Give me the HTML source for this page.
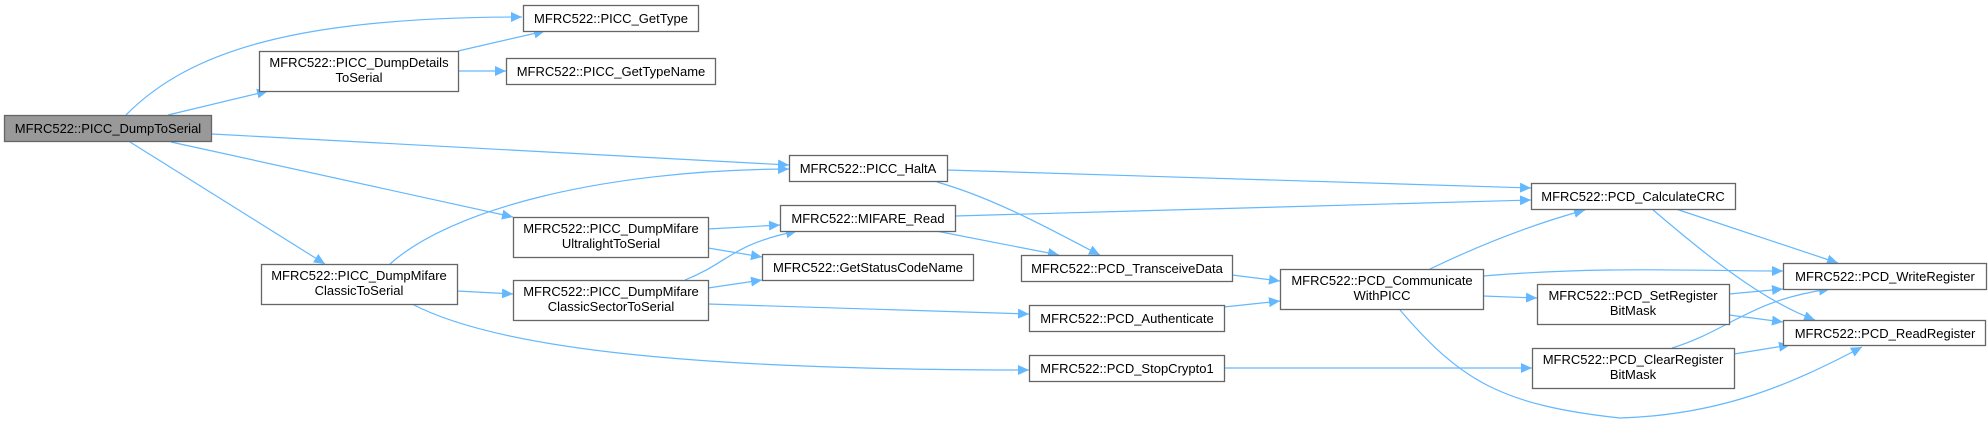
<!DOCTYPE html>
<html><head><meta charset="utf-8"><style>
html,body{margin:0;padding:0;background:#fff;}
svg{display:block;}
text{font-family:"Liberation Sans",Arial,sans-serif;font-size:13px;fill:#000;text-anchor:middle;}
.n{fill:#fff;stroke:#666;stroke-width:1.3;}
.e{fill:none;stroke:#63b8ff;stroke-width:1.2;marker-end:url(#a);}
</style></head><body>
<svg width="1988" height="424" viewBox="0 0 1988 424" xmlns="http://www.w3.org/2000/svg">
<defs><marker id="a" markerUnits="userSpaceOnUse" markerWidth="12" markerHeight="10" refX="11" refY="5" orient="auto"><path d="M0,0 L11,5 L0,10 z" fill="#63b8ff"/></marker></defs>
<g>
<path class="e" d="M126,115 C190,50 300,17 522,17"/>
<path class="e" d="M168,115 L268,91"/>
<path class="e" d="M212,134 L789,165"/>
<path class="e" d="M171,142 L513,217"/>
<path class="e" d="M130,142 L325,264"/>
<path class="e" d="M458,51 L545,31"/>
<path class="e" d="M459,71 L506,71"/>
<path class="e" d="M390,264 C450,210 600,170 789,169"/>
<path class="e" d="M457,291 L513,294"/>
<path class="e" d="M412,304 C500,350 700,370 1029,370"/>
<path class="e" d="M708,229 L780,225"/>
<path class="e" d="M708,248 L762,257"/>
<path class="e" d="M685,280 C730,262 730,245 797,231"/>
<path class="e" d="M708,288 L762,280"/>
<path class="e" d="M708,304 L1029,314"/>
<path class="e" d="M947,170 L1531,188"/>
<path class="e" d="M937,182 C1000,200 1060,235 1100,255"/>
<path class="e" d="M955,216 L1531,200"/>
<path class="e" d="M936,231 L1059,255"/>
<path class="e" d="M1232,275 L1280,281"/>
<path class="e" d="M1224,307 L1280,301"/>
<path class="e" d="M1224,368 L1532,368"/>
<path class="e" d="M1430,269 C1480,245 1530,225 1585,210"/>
<path class="e" d="M1483,276 C1600,266 1700,271 1783,271"/>
<path class="e" d="M1483,296 L1537,298"/>
<path class="e" d="M1400,310 C1460,380 1500,405 1620,418 C1720,415 1790,385 1862,347"/>
<path class="e" d="M1676,209 L1838,263"/>
<path class="e" d="M1652,209 C1700,250 1760,300 1815,320"/>
<path class="e" d="M1729,294 L1783,289"/>
<path class="e" d="M1729,315 L1783,322"/>
<path class="e" d="M1672,348 C1730,330 1750,300 1830,289"/>
<path class="e" d="M1734,354 L1790,345"/>
</g>
<g>
<rect x="4.5" y="115.5" width="207" height="26" fill="#999" stroke="#666" stroke-width="1.3"/>
<text x="108" y="133">MFRC522::PICC_DumpToSerial</text>
<rect class="n" x="523.5" y="5.5" width="175" height="26"/><text x="611" y="23">MFRC522::PICC_GetType</text>
<rect class="n" x="259.5" y="51.5" width="199" height="40"/><text x="359" y="67">MFRC522::PICC_DumpDetails</text><text x="359" y="82">ToSerial</text>
<rect class="n" x="506.5" y="58.5" width="209" height="26"/><text x="611" y="76">MFRC522::PICC_GetTypeName</text>
<rect class="n" x="513.5" y="217.5" width="195" height="40"/><text x="611" y="233">MFRC522::PICC_DumpMifare</text><text x="611" y="248">UltralightToSerial</text>
<rect class="n" x="261.5" y="264.5" width="196" height="40"/><text x="359" y="280">MFRC522::PICC_DumpMifare</text><text x="359" y="295">ClassicToSerial</text>
<rect class="n" x="513.5" y="280.5" width="195" height="40"/><text x="611" y="296">MFRC522::PICC_DumpMifare</text><text x="611" y="311">ClassicSectorToSerial</text>
<rect class="n" x="789.5" y="155.5" width="158" height="26"/><text x="868" y="173">MFRC522::PICC_HaltA</text>
<rect class="n" x="780.5" y="205.5" width="175" height="26"/><text x="868" y="223">MFRC522::MIFARE_Read</text>
<rect class="n" x="762.5" y="254.5" width="211" height="26"/><text x="868" y="272">MFRC522::GetStatusCodeName</text>
<rect class="n" x="1021.5" y="255.5" width="211" height="26"/><text x="1127" y="273">MFRC522::PCD_TransceiveData</text>
<rect class="n" x="1029.5" y="305.5" width="195" height="26"/><text x="1127" y="323">MFRC522::PCD_Authenticate</text>
<rect class="n" x="1029.5" y="355.5" width="195" height="26"/><text x="1127" y="373">MFRC522::PCD_StopCrypto1</text>
<rect class="n" x="1280.5" y="269.5" width="203" height="40"/><text x="1382" y="285">MFRC522::PCD_Communicate</text><text x="1382" y="300">WithPICC</text>
<rect class="n" x="1531.5" y="183.5" width="204" height="26"/><text x="1633" y="201">MFRC522::PCD_CalculateCRC</text>
<rect class="n" x="1537.5" y="284.5" width="192" height="40"/><text x="1633" y="300">MFRC522::PCD_SetRegister</text><text x="1633" y="315">BitMask</text>
<rect class="n" x="1532.5" y="348.5" width="202" height="40"/><text x="1633" y="364">MFRC522::PCD_ClearRegister</text><text x="1633" y="379">BitMask</text>
<rect class="n" x="1783.5" y="263.5" width="203" height="26"/><text x="1885" y="281">MFRC522::PCD_WriteRegister</text>
<rect class="n" x="1783.5" y="320.5" width="202" height="25"/><text x="1885" y="338">MFRC522::PCD_ReadRegister</text>
</g>
</svg>
</body></html>
